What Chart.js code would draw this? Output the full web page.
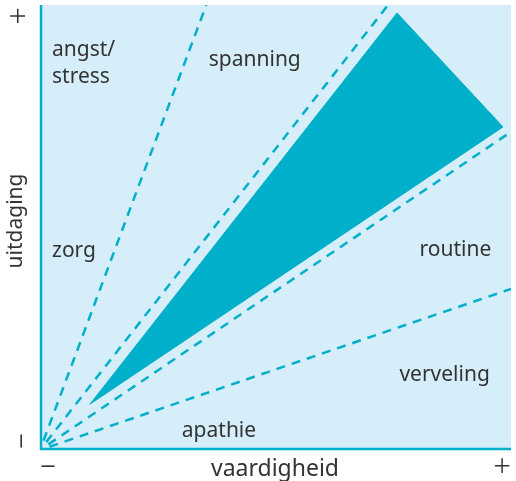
<!DOCTYPE html>
<html lang="nl">
<head>
<meta charset="UTF-8">
<title>uitdaging / vaardigheid</title>
<script src="https://cdn.jsdelivr.net/npm/chart.js"></script>
<style>
    html, body { margin: 0; padding: 0; background: #fff; }
    #wrap { width: 516px; height: 481px; position: relative; }
</style>
</head>
<body>
<div id="wrap"><canvas id="flow"></canvas></div>
<script>
    // dashed rays from the origin, end points in axis units (0..100)
    const rayEndX = [35.3, 73.9, 100, 100];
    const rayEndY = [100, 100, 71.5, 36.2];

    // the flow zone (filled triangle)
    const zoneX = [10.6, 75.8, 98.3];
    const zoneY = [10.3, 98.2, 72.6];

    // region names and where they sit (axis units, x = left/center, y = baseline)
    const regionNames = ['angst/', 'stress', 'spanning', 'zorg', 'routine', 'verveling', 'apathie'];
    const regionX = [2.55, 2.55, 45.6, 2.55, 88.2, 85.9, 38.0];
    const regionY = [88.5, 82.5, 86.3, 43.4, 43.6, 15.5, 2.9];
    const regionAlign = ['left', 'left', 'center', 'left', 'center', 'center', 'center'];

    const axisTitleX = 'vaardigheid';
    const axisTitleY = 'uitdaging';
    const tickLow = '\u2013';
    const tickHigh = '+';

    const teal = '#00b0ca';
    const pale = '#d5eefa';
    const ink = '#333333';
    const font = '"Noto Sans", "Open Sans", sans-serif';

    const datasets = rayEndX.map((x, i) => ({
        data: [{ x: 0, y: 0 }, { x: x, y: rayEndY[i] }],
        showLine: true,
        borderColor: teal,
        borderWidth: 2.5,
        borderDash: [9, 7],
        borderDashOffset: 6,
        pointRadius: 0,
        fill: false
    }));

    const zone = zoneX.map((x, i) => ({ x: x, y: zoneY[i] }));
    zone.push(zone[0]);
    datasets.unshift({
        data: zone,
        showLine: true,
        borderColor: teal,
        borderWidth: 1,
        backgroundColor: teal,
        pointRadius: 0,
        fill: 'shape'
    });

    // pale plot background + the two teal axis lines
    const backdrop = {
        id: 'backdrop',
        beforeDatasetsDraw(chart) {
            const { ctx, chartArea: a } = chart;
            ctx.save();
            ctx.fillStyle = pale;
            ctx.fillRect(a.left, a.top, a.right - a.left, a.bottom - a.top);
            ctx.restore();
        },
        afterDatasetsDraw(chart) {
            const { ctx, chartArea: a } = chart;
            ctx.save();
            ctx.strokeStyle = teal;
            ctx.lineWidth = 2.5;
            ctx.beginPath();
            ctx.moveTo(a.left + 1, a.top);
            ctx.lineTo(a.left + 1, a.bottom - 1);
            ctx.lineTo(a.right, a.bottom - 1);
            ctx.stroke();
            ctx.restore();
        }
    };

    // region names, axis titles, the – and + end marks
    const labels = {
        id: 'labels',
        afterDraw(chart) {
            const { ctx, chartArea: a } = chart;
            const xs = chart.scales.x, ys = chart.scales.y;
            ctx.save();
            ctx.fillStyle = ink;
            ctx.textBaseline = 'alphabetic';
            ctx.font = '21px ' + font;
            regionNames.forEach((t, i) => {
                ctx.textAlign = regionAlign[i];
                ctx.fillText(t, xs.getPixelForValue(regionX[i]), ys.getPixelForValue(regionY[i]));
            });

            ctx.textAlign = 'center';
            ctx.textBaseline = 'middle';
            ctx.font = '23px ' + font;
            ctx.fillText(axisTitleX, 275, a.bottom + 19);
            ctx.font = '300 31px ' + font;
            ctx.fillText(tickLow, a.left + 8, a.bottom + 16);
            ctx.fillText(tickHigh, a.right - 9, a.bottom + 18);

            ctx.save();
            ctx.translate(20, 0);
            ctx.rotate(-Math.PI / 2);
            ctx.font = '21px ' + font;
            ctx.fillText(axisTitleY, -221, -4);
            ctx.font = '300 31px ' + font;
            ctx.fillText(tickLow, -441, 1);
            ctx.fillText(tickHigh, -16, 0);
            ctx.restore();
            ctx.restore();
        }
    };

    new Chart(document.getElementById('flow'), {
        type: 'scatter',
        data: { datasets: datasets },
        options: {
            responsive: true,
            maintainAspectRatio: false,
            animation: false,
            layout: { padding: { left: 40, top: 5, right: 5, bottom: 31 } },
            scales: {
                x: { type: 'linear', min: 0, max: 100, display: false },
                y: { type: 'linear', min: 0, max: 100, display: false }
            },
            plugins: {
                legend: { display: false },
                tooltip: { enabled: false }
            }
        },
        plugins: [backdrop, labels]
    });
</script>
</body>
</html>
